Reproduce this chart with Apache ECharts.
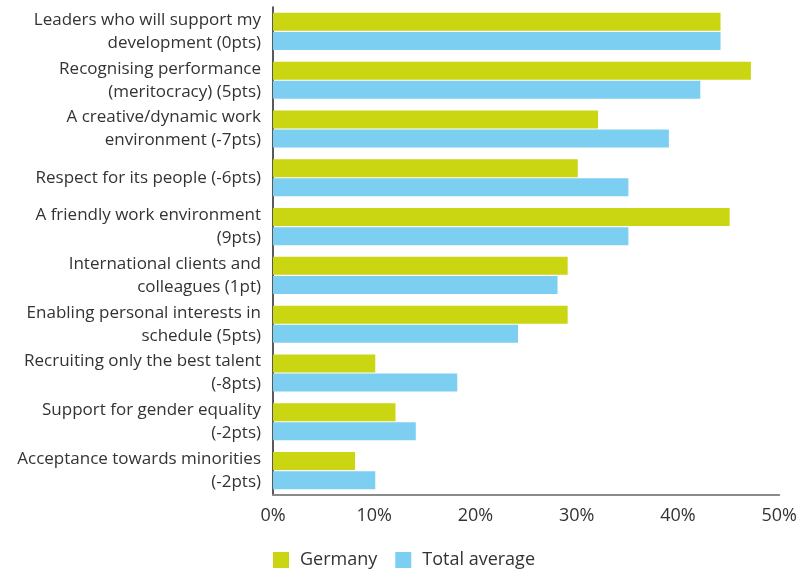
<!DOCTYPE html>
<html><head><meta charset="utf-8">
<script src="https://cdn.jsdelivr.net/npm/echarts@6/dist/echarts.min.js"></script>
<style>html,body{margin:0;padding:0;background:#fff}#c{width:800px;height:572px}</style>
</head><body><div id="c"></div>
<script>
var categories = [
  "Leaders who will support my\ndevelopment (0pts)",
  "Recognising performance\n(meritocracy) (5pts)",
  "A creative/dynamic work\nenvironment (-7pts)",
  "Respect for its people (-6pts)",
  "A friendly work environment\n(9pts)",
  "International clients and\ncolleagues (1pt)",
  "Enabling personal interests in\nschedule (5pts)",
  "Recruiting only the best talent\n(-8pts)",
  "Support for gender equality\n(-2pts)",
  "Acceptance towards minorities\n(-2pts)"
];
var germany = [44.2, 47.2, 32.1, 30.1, 45.1, 29.1, 29.1, 10.1, 12.1, 8.1];
var totalAverage = [44.2, 42.2, 39.1, 35.1, 35.1, 28.1, 24.2, 18.2, 14.1, 10.1];
var seriesNames = ["Germany", "Total average"];

var font = "'Open Sans', 'Noto Sans', sans-serif";
var chart = echarts.init(document.getElementById('c'), null, {renderer: 'canvas'});
chart.setOption({
  animation: false,
  color: ['#cad611', '#7dcff2'],
  textStyle: {fontFamily: font},
  grid: {left: 273, right: 19, top: 7, bottom: 77, containLabel: false},
  legend: {
    data: seriesNames, left: 268, top: 546, itemWidth: 16, itemHeight: 16, itemGap: 18,
    icon: 'rect',
    textStyle: {fontSize: 18, color: '#333', fontFamily: font, padding: [0, 0, 0, 6]}
  },
  xAxis: {
    type: 'value', min: 0, max: 50, interval: 10,
    axisLine: {show: true, lineStyle: {color: '#8a8a8a', width: 2}},
    axisTick: {show: false},
    splitLine: {show: false},
    axisLabel: {formatter: '{value}%', fontSize: 18, color: '#333', margin: 12, fontFamily: font}
  },
  yAxis: {
    type: 'category', data: categories, inverse: true,
    axisLine: {show: true, lineStyle: {color: '#222', width: 1.5}},
    axisTick: {show: false},
    axisLabel: {fontSize: 17, color: '#333', lineHeight: 23, margin: 12, align: 'right', fontFamily: font}
  },
  series: [
    {name: seriesNames[0], type: 'bar', data: germany, barWidth: 18, barGap: '6%'},
    {name: seriesNames[1], type: 'bar', data: totalAverage, barWidth: 18, barGap: '6%'}
  ]
});
</script></body></html>
